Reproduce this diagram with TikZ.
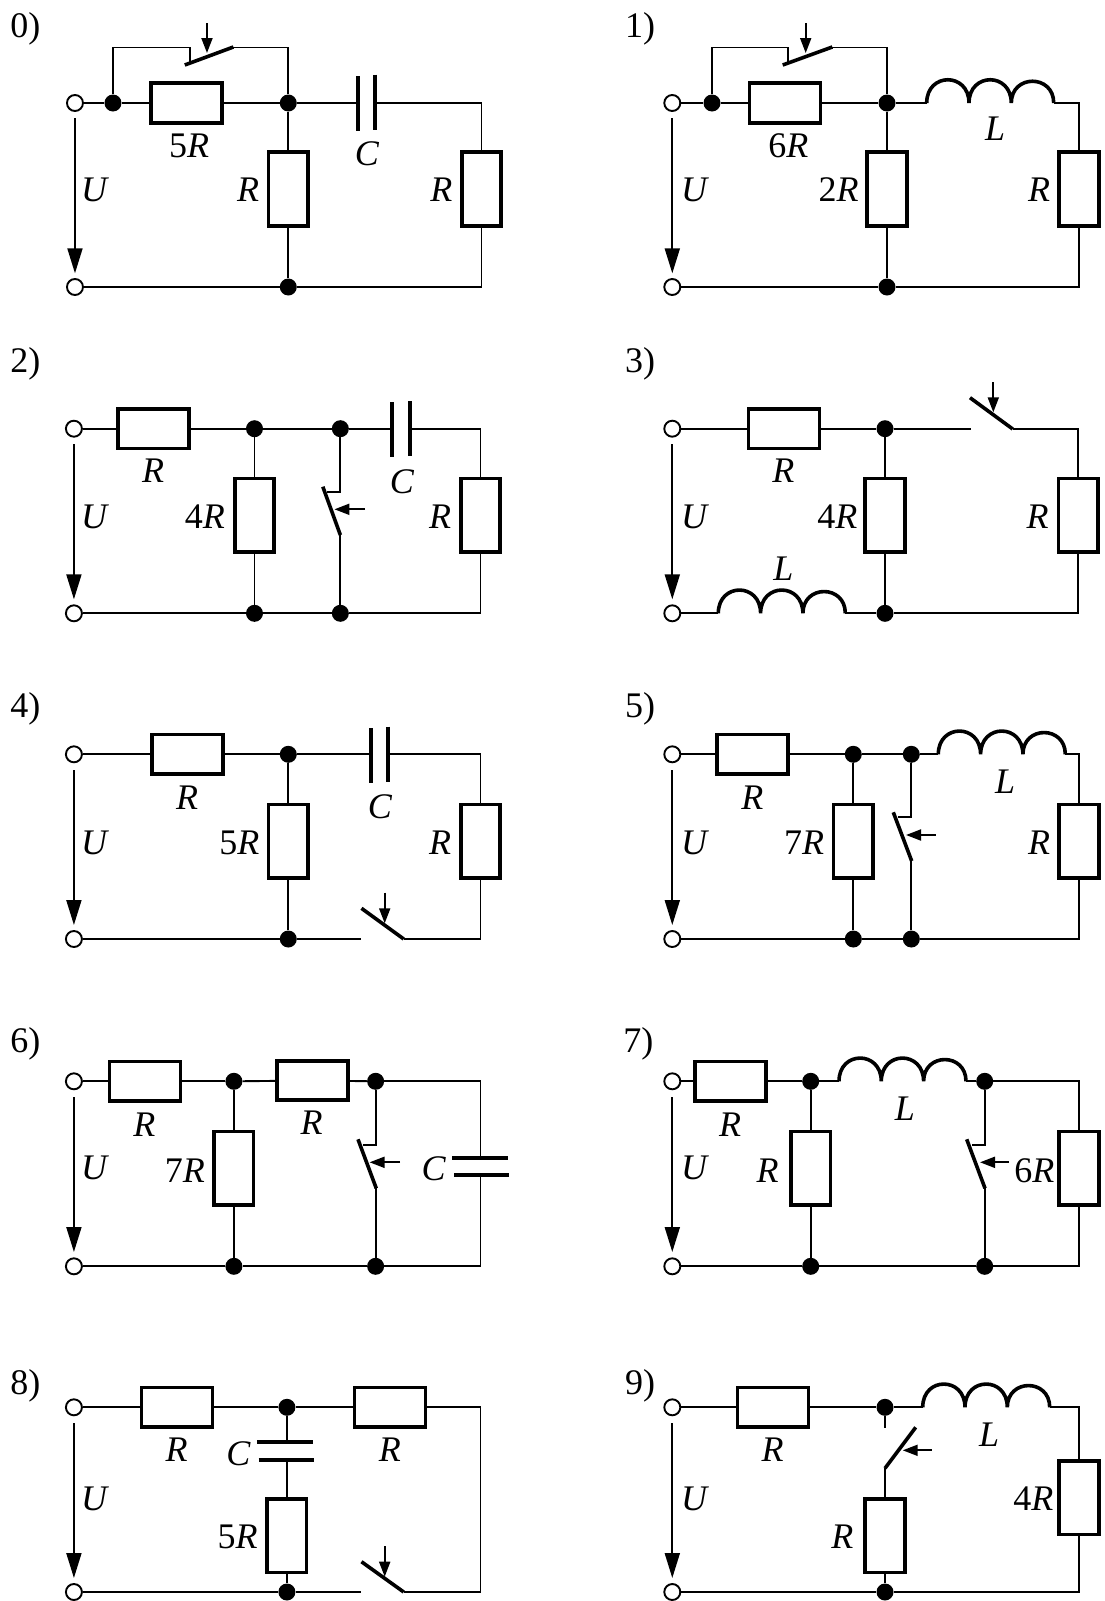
\documentclass[tikz,border=0pt]{standalone}
\usepackage{fontspec}
\setmainfont{Liberation Serif}
\usetikzlibrary{arrows.meta}
\tikzset{
  wire/.style={line width=1.9pt,draw=black},
  hresistor/.style={draw=black,fill=white,line width=3.6pt,rectangle,inner sep=0pt,minimum width=71pt,minimum height=39.5pt},
  vresistor/.style={draw=black,fill=white,line width=3.6pt,rectangle,inner sep=0pt,minimum width=39.5pt,minimum height=73.5pt},
  junction/.style={circle,fill=black,draw=none,inner sep=0pt,minimum size=17pt},
  terminal/.style={circle,fill=white,draw=black,line width=1.9pt,inner sep=0pt,minimum size=16pt},
  plate/.style={line width=3.8pt,draw=black},
  blade/.style={line width=3.6pt,draw=black},
  coil/.style={line width=3.6pt,draw=black},
  pusher/.style={line width=1.9pt,draw=black,-{Triangle[length=15pt,width=11pt]}},
  voltage/.style={line width=1.9pt,draw=black,-{Triangle[length=25pt,width=15pt]}},
  lbl/.style={anchor=base,inner sep=0pt,yshift=-0.7pt,font=\fontsize{36}{38}\selectfont},
  leftpanel/.style={x=1.056pt}
}
\newcommand{\hR}[3]{\node[hresistor] (#1) at (#2,#3) {};}
\newcommand{\vR}[3]{\node[vresistor] (#1) at (#2,#3) {};}
\newcommand{\dotJ}[3]{\node[junction] (#1) at (#2,#3) {};}
\newcommand{\term}[3]{\node[terminal] (#1) at (#2,#3) {};}
\newcommand{\lab}[4]{\node[lbl] (#1) at (#2,#3) {#4};}
\newcommand{\uarr}[4]{\coordinate (#1a) at (#2,#3); \coordinate (#1b) at (#2,#4); \draw[voltage] (#1a) -- (#1b);}
\newcommand{\pushA}[5]{\coordinate (#1a) at (#2,#3); \coordinate (#1b) at (#4,#5); \draw[pusher] (#1a) -- (#1b);}
\newcommand{\bladeS}[5]{\coordinate (#1a) at (#2,#3); \coordinate (#1b) at (#4,#5); \draw[blade] (#1a) -- (#1b);}
% name, x0, y : coordinates name-l and name-r
\newcommand{\indL}[3]{%
  \coordinate (#1-l) at (#2,#3); \coordinate (#1-r) at ({#2+127},#3);
  \draw[coil] (#1-l)
    .. controls ({#2},{#3-31}) and ({#2+42.3},{#3-31}) .. ({#2+42.3},#3)
    .. controls ({#2+42.3},{#3-31}) and ({#2+84.6},{#3-31}) .. ({#2+84.6},#3)
    .. controls ({#2+84.6},{#3-29}) and ({#2+127},{#3-29}) .. (#1-r);}
\begin{document}
\begin{tikzpicture}[x=1pt,y=-1pt]
\useasboundingbox (0,0) rectangle (1105,1601);
% ---------- 0
\begin{scope}[leftpanel]
\lab{n0}{24}{36.5}{0)}
\term{t0}{71}{103}\term{b0}{71}{287}
\dotJ{j0a}{107}{103}\dotJ{j0b}{273}{103}\dotJ{j0c}{273}{287}
\hR{r0a}{176.5}{103}\vR{r0b}{273}{189}\vR{r0c}{456}{189}
\coordinate (c0l) at (339,103);\coordinate (c0r) at (355,103);
\coordinate (s0a) at (107,47.5);\coordinate (s0b) at (180,47.5);\coordinate (s0c) at (180,63);
\coordinate (s0d) at (221,47.5);\coordinate (s0e) at (273,47.5);
\draw[wire] (t0) -- (j0a);\draw[wire] (j0a) -- (r0a);\draw[wire] (r0a) -- (j0b);\draw[wire] (j0b) -- (c0l);
\draw[wire] (c0r) -| (r0c.north);\draw[wire] (r0c.south) |- (j0c);
\draw[wire] (j0b) -- (r0b);\draw[wire] (r0b) -- (j0c);\draw[wire] (b0) -- (j0c);
\draw[wire] (j0a) -- (s0a) -- (s0b) -- (s0c);\draw[wire] (s0d) -- (s0e) -- (j0b);
\draw[plate] (339,76) -- (339,131);\draw[plate] (355,74.5) -- (355,129.5);
\bladeS{k0}{175}{65}{221}{47}
\pushA{p0}{196}{23}{196}{53}
\uarr{u0}{71}{118.3}{273.3}
\lab{l0a}{179}{157}{5\textit{R}}\lab{l0b}{347.5}{165}{\textit{C}}\lab{l0c}{235}{201}{\textit{R}}\lab{l0d}{418}{201}{\textit{R}}\lab{l0e}{90}{201}{\textit{U}}
\end{scope}
% ---------- 1
\lab{n1}{640}{36.5}{1)}
\term{t1}{672.3}{103}\term{b1}{672.3}{287}
\dotJ{j1a}{712}{103}\dotJ{j1b}{887}{103}\dotJ{j1c}{887}{287}
\hR{r1a}{785}{103}\vR{r1b}{887}{189}\vR{r1c}{1079}{189}
\indL{i1}{926.7}{103}
\coordinate (s1a) at (712,47.5);\coordinate (s1b) at (788.3,47.5);\coordinate (s1c) at (788.3,63);
\coordinate (s1d) at (832.3,47.5);\coordinate (s1e) at (887,47.5);
\draw[wire] (t1) -- (j1a);\draw[wire] (j1a) -- (r1a);\draw[wire] (r1a) -- (j1b);\draw[wire] (j1b) -- (i1-l);
\draw[wire] (i1-r) -| (r1c.north);\draw[wire] (r1c.south) |- (j1c);
\draw[wire] (j1b) -- (r1b);\draw[wire] (r1b) -- (j1c);\draw[wire] (b1) -- (j1c);
\draw[wire] (j1a) -- (s1a) -- (s1b) -- (s1c);\draw[wire] (s1d) -- (s1e) -- (j1b);
\bladeS{k1}{782.7}{65}{832.3}{47}
\pushA{p1}{805.7}{23}{805.7}{53}
\uarr{u1}{672.3}{118.3}{273.3}
\lab{l1a}{788.3}{157}{6\textit{R}}\lab{l1b}{838.7}{201}{2\textit{R}}\lab{l1c}{995}{140}{\textit{L}}\lab{l1d}{1039}{201}{\textit{R}}\lab{l1e}{695}{201}{\textit{U}}
% ---------- 2
\begin{scope}[leftpanel]
\lab{n2}{24}{371.7}{2)}
\term{t2}{70}{428.7}\term{b2}{70}{613.3}
\dotJ{j2a}{241}{428.7}\dotJ{j2b}{322.3}{428.7}\dotJ{j2c}{241}{613.3}\dotJ{j2d}{322.3}{613.3}
\hR{r2a}{145.5}{428.7}\vR{r2b}{241}{515.2}\vR{r2c}{455}{515.2}
\coordinate (c2l) at (371.3,428.7);\coordinate (c2r) at (388,428.7);
\coordinate (s2a) at (322.3,491.7);\coordinate (s2b) at (309.3,491.7);\coordinate (s2c) at (322.3,535);
\draw[wire] (t2) -- (r2a);\draw[wire] (r2a) -- (j2a);\draw[wire] (j2a) -- (j2b);\draw[wire] (j2b) -- (c2l);
\draw[wire] (c2r) -| (r2c.north);\draw[wire] (r2c.south) |- (j2d);
\draw[wire] (j2a) -- (r2b);\draw[wire] (r2b) -- (j2c);\draw[wire] (b2) -- (j2c);\draw[wire] (j2c) -- (j2d);
\draw[wire] (j2b) -- (s2a) -- (s2b);\draw[wire] (s2c) -- (j2d);
\draw[plate] (371.3,402.3) -- (371.3,457.3);\draw[plate] (388,401) -- (388,456.3);
\bladeS{k2}{305.7}{486.7}{322.3}{535}
\pushA{p2}{345.7}{509.3}{316.7}{509.3}
\uarr{u2}{70}{444.3}{599.3}
\lab{l2a}{145}{482}{\textit{R}}\lab{l2b}{194}{527.7}{4\textit{R}}\lab{l2c}{380.7}{492.3}{\textit{C}}\lab{l2d}{416.7}{527.7}{\textit{R}}\lab{l2e}{90}{527.7}{\textit{U}}
\end{scope}
% ---------- 3
\lab{n3}{640}{371.7}{3)}
\term{t3}{672.3}{428.7}\term{b3}{672.3}{613.3}
\dotJ{j3a}{885}{428.7}\dotJ{j3b}{885}{613.3}
\hR{r3a}{784}{428.7}\vR{r3b}{885}{515.2}\vR{r3c}{1078.3}{515.2}
\indL{i3}{718.3}{613.3}
\coordinate (s3a) at (970.7,428.7);\coordinate (s3b) at (1012.7,428.7);
\draw[wire] (t3) -- (r3a);\draw[wire] (r3a) -- (j3a);\draw[wire] (j3a) -- (s3a);
\draw[wire] (s3b) -| (r3c.north);\draw[wire] (r3c.south) |- (j3b);
\draw[wire] (j3a) -- (r3b);\draw[wire] (r3b) -- (j3b);
\draw[wire] (b3) -- (i3-l);\draw[wire] (i3-r) -- (j3b);
\bladeS{k3}{970}{397.7}{1012.7}{429}
\pushA{p3}{993.3}{382.3}{993.3}{412.3}
\uarr{u3}{672.3}{444.3}{599.3}
\lab{l3a}{783.3}{482}{\textit{R}}\lab{l3b}{837.3}{528}{4\textit{R}}\lab{l3c}{1037.7}{528}{\textit{R}}\lab{l3d}{783.3}{580}{\textit{L}}\lab{l3e}{695}{527.7}{\textit{U}}
% ---------- 4
\begin{scope}[leftpanel]
\lab{n4}{24}{716.7}{4)}
\term{t4}{70}{754.3}\term{b4}{70}{939}
\dotJ{j4a}{273}{754.3}\dotJ{j4b}{273}{939}
\hR{r4a}{177.3}{754.3}\vR{r4b}{273}{841.3}\vR{r4c}{455}{841.3}
\coordinate (c4l) at (351,754.3);\coordinate (c4r) at (367.7,754.3);
\coordinate (s4a) at (342.3,939);\coordinate (s4b) at (382.3,939);
\draw[wire] (t4) -- (r4a);\draw[wire] (r4a) -- (j4a);\draw[wire] (j4a) -- (c4l);
\draw[wire] (c4r) -| (r4c.north);\draw[wire] (r4c.south) |- (s4b);
\draw[wire] (j4a) -- (r4b);\draw[wire] (r4b) -- (j4b);\draw[wire] (b4) -- (j4b);\draw[wire] (j4b) -- (s4a);
\draw[plate] (351,728.3) -- (351,783.3);\draw[plate] (367.7,726.7) -- (367.7,782);
\bladeS{k4}{342.3}{908.3}{382.3}{939}
\pushA{p4}{364.3}{892.7}{364.3}{923.3}
\uarr{u4}{70}{770}{925}
\lab{l4a}{177.3}{809}{\textit{R}}\lab{l4b}{226.7}{853.3}{5\textit{R}}\lab{l4c}{360}{817.7}{\textit{C}}\lab{l4d}{416.7}{853.3}{\textit{R}}\lab{l4e}{90}{853.3}{\textit{U}}
\end{scope}
% ---------- 5
\lab{n5}{640}{716.7}{5)}
\term{t5}{672.3}{754.3}\term{b5}{672.3}{939}
\dotJ{j5a}{853.3}{754.3}\dotJ{j5b}{911.3}{754.3}\dotJ{j5c}{853.3}{939}\dotJ{j5d}{911.3}{939}
\hR{r5a}{752.5}{754.3}\vR{r5b}{853.3}{841.3}\vR{r5c}{1079}{841.3}
\indL{i5}{938.3}{754.3}
\coordinate (s5a) at (911.3,817.3);\coordinate (s5b) at (897.7,817.3);\coordinate (s5c) at (911.3,861);
\draw[wire] (t5) -- (r5a);\draw[wire] (r5a) -- (j5a);\draw[wire] (j5a) -- (j5b);\draw[wire] (j5b) -- (i5-l);
\draw[wire] (i5-r) -| (r5c.north);\draw[wire] (r5c.south) |- (j5d);
\draw[wire] (j5a) -- (r5b);\draw[wire] (r5b) -- (j5c);\draw[wire] (b5) -- (j5c);\draw[wire] (j5c) -- (j5d);
\draw[wire] (j5b) -- (s5a) -- (s5b);\draw[wire] (s5c) -- (j5d);
\bladeS{k5}{893.3}{812.3}{911.7}{861}
\pushA{p5}{935.7}{835}{906}{835}
\uarr{u5}{672.3}{770}{925}
\lab{l5a}{752.3}{809}{\textit{R}}\lab{l5b}{804}{853.3}{7\textit{R}}\lab{l5c}{1005}{792.3}{\textit{L}}\lab{l5d}{1039}{853.3}{\textit{R}}\lab{l5e}{695}{853.3}{\textit{U}}
% ---------- 6
\begin{scope}[leftpanel]
\lab{n6}{24}{1051.7}{6)}
\term{t6}{70}{1081.3}\term{b6}{70}{1266.3}
\dotJ{j6a}{221.5}{1081.3}\dotJ{j6b}{355.7}{1081.3}\dotJ{j6c}{221.5}{1266.3}\dotJ{j6d}{355.7}{1266.3}
\hR{r6a}{137.3}{1081.3}\hR{r6b}{295.7}{1080.5}\vR{r6c}{221.5}{1168.3}
\coordinate (c6u) at (455,1157.7);\coordinate (c6d) at (455,1175);
\coordinate (s6a) at (355.7,1145);\coordinate (s6b) at (343.3,1145);\coordinate (s6c) at (355.7,1188.3);
\draw[wire] (t6) -- (r6a);\draw[wire] (r6a) -- (j6a);\draw[wire] (j6a) -- (r6b);\draw[wire] (r6b) -- (j6b);
\draw[wire] (j6b) -| (c6u);\draw[wire] (c6d) |- (j6d);
\draw[wire] (j6a) -- (r6c);\draw[wire] (r6c) -- (j6c);\draw[wire] (b6) -- (j6c);\draw[wire] (j6c) -- (j6d);
\draw[wire] (j6b) -- (s6a) -- (s6b);\draw[wire] (s6c) -- (j6d);
\draw[plate] (428.3,1157.7) -- (480.7,1157.7);\draw[plate] (430,1175) -- (482.3,1175);
\bladeS{k6}{339}{1139.3}{356.3}{1188.3}
\pushA{p6}{379}{1162.3}{350}{1162.3}
\uarr{u6}{70}{1097}{1252}
\lab{l6a}{136.7}{1136}{\textit{R}}\lab{l6b}{295}{1134}{\textit{R}}\lab{l6c}{175}{1181.7}{7\textit{R}}\lab{l6d}{410.7}{1180}{\textit{C}}\lab{l6e}{90}{1178.3}{\textit{U}}
\end{scope}
% ---------- 7
\lab{n7}{638.3}{1051.7}{7)}
\term{t7}{672.3}{1081.3}\term{b7}{672.3}{1266.3}
\dotJ{j7a}{810.7}{1081.3}\dotJ{j7b}{984.7}{1081.3}\dotJ{j7c}{810.7}{1266.3}\dotJ{j7d}{984.7}{1266.3}
\hR{r7a}{730.3}{1081.3}\vR{r7b}{810.7}{1168.3}\vR{r7c}{1079}{1168.3}
\indL{i7}{839}{1081.3}
\coordinate (s7a) at (984.7,1145);\coordinate (s7b) at (971.7,1145);\coordinate (s7c) at (984.7,1188.3);
\draw[wire] (t7) -- (r7a);\draw[wire] (r7a) -- (j7a);\draw[wire] (j7a) -- (i7-l);\draw[wire] (i7-r) -- (j7b);
\draw[wire] (j7b) -| (r7c.north);\draw[wire] (r7c.south) |- (j7d);
\draw[wire] (j7a) -- (r7b);\draw[wire] (r7b) -- (j7c);\draw[wire] (b7) -- (j7c);\draw[wire] (j7c) -- (j7d);
\draw[wire] (j7b) -- (s7a) -- (s7b);\draw[wire] (s7c) -- (j7d);
\bladeS{k7}{966.7}{1139.3}{985}{1188.3}
\pushA{p7}{1009}{1162.3}{980}{1162.3}
\uarr{u7}{672.3}{1097}{1252}
\lab{l7a}{730}{1136}{\textit{R}}\lab{l7b}{905}{1120}{\textit{L}}\lab{l7c}{767.7}{1181.7}{\textit{R}}\lab{l7d}{1034.3}{1181.7}{6\textit{R}}\lab{l7e}{695}{1178.3}{\textit{U}}
% ---------- 8
\begin{scope}[leftpanel]
\lab{n8}{24}{1394}{8)}
\term{t8}{70}{1407.3}\term{b8}{70}{1592}
\dotJ{j8a}{271.7}{1407.3}\dotJ{j8b}{271.7}{1592}
\hR{r8a}{167.7}{1407.3}\hR{r8b}{369.3}{1407.3}\vR{r8c}{271.7}{1535.7}
\coordinate (c8u) at (271.7,1442.3);\coordinate (c8d) at (271.7,1460);
\coordinate (s8a) at (342.3,1592);\coordinate (s8b) at (382.3,1592);
\draw[wire] (t8) -- (r8a);\draw[wire] (r8a) -- (j8a);\draw[wire] (j8a) -- (r8b);
\draw[wire] (r8b.east) -| (455,1592) -- (s8b);
\draw[wire] (j8a) -- (c8u);\draw[wire] (c8d) -- (r8c);\draw[wire] (r8c) -- (j8b);
\draw[wire] (b8) -- (j8b);\draw[wire] (j8b) -- (s8a);
\draw[plate] (243.3,1442.3) -- (296,1442.3);\draw[plate] (245,1460) -- (297.3,1460);
\bladeS{k8}{342.3}{1561.7}{382.3}{1592}
\pushA{p8}{364.3}{1546}{364.3}{1576.7}
\uarr{u8}{70}{1423}{1578}
\lab{l8a}{167.3}{1461}{\textit{R}}\lab{l8b}{369.3}{1461}{\textit{R}}\lab{l8c}{226}{1465}{\textit{C}}\lab{l8d}{225}{1547.3}{5\textit{R}}\lab{l8e}{90}{1510}{\textit{U}}
\end{scope}
% ---------- 9
\lab{n9}{640}{1394}{9)}
\term{t9}{672.3}{1407.3}\term{b9}{672.3}{1592}
\dotJ{j9a}{885}{1407.3}\dotJ{j9b}{885}{1592}
\hR{r9a}{773}{1407.3}\vR{r9b}{1079}{1497.7}\vR{r9c}{885}{1535.7}
\indL{i9}{922.7}{1407.3}
\coordinate (s9a) at (885,1427.7);\coordinate (s9b) at (885,1468.3);
\draw[wire] (t9) -- (r9a);\draw[wire] (r9a) -- (j9a);\draw[wire] (j9a) -- (i9-l);
\draw[wire] (i9-r) -| (r9b.north);\draw[wire] (r9b.south) |- (j9b);
\draw[wire] (j9a) -- (s9a);\draw[wire] (s9b) -- (r9c);\draw[wire] (r9c) -- (j9b);\draw[wire] (b9) -- (j9b);
\bladeS{k9}{885}{1468.3}{915.7}{1427.3}
\pushA{p9}{931.7}{1450.3}{902.7}{1450.3}
\uarr{u9}{672.3}{1423}{1578}
\lab{l9a}{772.7}{1461}{\textit{R}}\lab{l9b}{989}{1445.7}{\textit{L}}\lab{l9c}{695}{1510}{\textit{U}}\lab{l9d}{842.3}{1547.3}{\textit{R}}\lab{l9e}{1033.3}{1510}{4\textit{R}}
\end{tikzpicture}
\end{document}
